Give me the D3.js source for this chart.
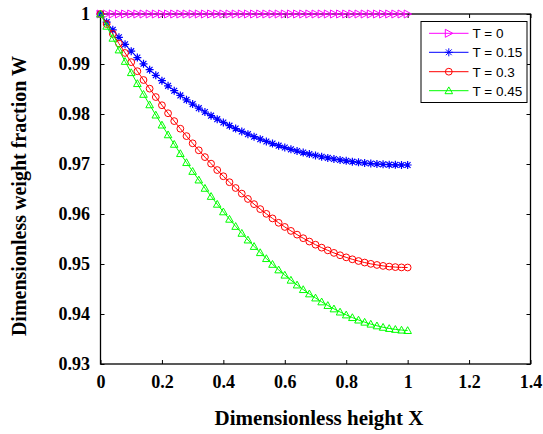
<!DOCTYPE html>
<html>
<head>
<meta charset="utf-8">
<script src="https://cdnjs.cloudflare.com/ajax/libs/d3/7.8.5/d3.min.js"></script>
<style>
  html, body { margin: 0; padding: 0; background: #fff; }
  svg { display: block; }
</style>
</head>
<body>
<svg id="chart" width="543" height="434"></svg>
<script>
// ---------- data ----------
const xValues = [0,0.02,0.04,0.06,0.08,0.10,0.12,0.14,0.16,0.18,0.20,0.22,0.24,0.26,0.28,0.30,0.32,0.34,0.36,0.38,0.40,0.42,0.44,0.46,0.48,0.50,0.52,0.54,0.56,0.58,0.60,0.62,0.64,0.66,0.68,0.70,0.72,0.74,0.76,0.78,0.80,0.82,0.84,0.86,0.88,0.90,0.92,0.94,0.96,0.98,1.00];

const seriesNames = ["T = 0", "T = 0.15", "T = 0.3", "T = 0.45"];

const wT0 = [1,1,1,1,1,1,1,1,1,1,1,1,1,1,1,1,1,1,1,1,1,1,1,1,1,1,1,1,1,1,1,1,1,1,1,1,1,1,1,1,1,1,1,1,1,1,1,1,1,1,1];

const wT015 = [1,0.99837,0.99683,0.99534,0.99393,0.99257,0.99128,0.99004,0.98886,0.98774,0.98666,0.98563,0.98466,0.98372,0.98283,0.98198,0.98117,0.98040,0.97967,0.97897,0.97831,0.97767,0.97708,0.97651,0.97597,0.97546,0.97497,0.97451,0.97408,0.97367,0.97329,0.97293,0.97259,0.97228,0.97198,0.97171,0.97145,0.97122,0.97100,0.97081,0.97063,0.97047,0.97033,0.97020,0.97009,0.97000,0.96993,0.96987,0.96983,0.96980,0.96980];

const wT03 = [1,0.99799,0.99603,0.99410,0.99221,0.99037,0.98856,0.98680,0.98507,0.98339,0.98175,0.98015,0.97858,0.97706,0.97558,0.97414,0.97274,0.97138,0.97007,0.96879,0.96755,0.96636,0.96520,0.96408,0.96301,0.96197,0.96098,0.96003,0.95912,0.95824,0.95741,0.95662,0.95587,0.95516,0.95449,0.95386,0.95327,0.95273,0.95222,0.95175,0.95133,0.95094,0.95060,0.95029,0.95003,0.94981,0.94962,0.94948,0.94938,0.94932,0.94930];

const wT045 = [1,0.99756,0.99516,0.99282,0.99053,0.98828,0.98609,0.98394,0.98185,0.97980,0.97780,0.97585,0.97395,0.97209,0.97029,0.96853,0.96681,0.96515,0.96353,0.96196,0.96044,0.95896,0.95753,0.95615,0.95481,0.95352,0.95228,0.95109,0.94994,0.94883,0.94778,0.94677,0.94581,0.94489,0.94403,0.94321,0.94243,0.94171,0.94103,0.94040,0.93982,0.93929,0.93880,0.93837,0.93798,0.93764,0.93735,0.93711,0.93693,0.93679,0.93670];

const xTicks = [0,0.2,0.4,0.6,0.8,1,1.2,1.4];
const xTickLabels = ["0","0.2","0.4","0.6","0.8","1","1.2","1.4"];
const yTicks = [0.93,0.94,0.95,0.96,0.97,0.98,0.99,1];
const yTickLabels = ["0.93","0.94","0.95","0.96","0.97","0.98","0.99","1"];

const xTitle = "Dimensionless height X";
const yTitle = "Dimensionless weight fraction W";

// ---------- layout ----------
const L = 100.5, R = 530.5, T = 14, B = 364;
const svg = d3.select("#chart");
const x = d3.scaleLinear().domain([0, 1.4]).range([L, R]);
const y = d3.scaleLinear().domain([0.93, 1]).range([B, T]);

const serif = "'Liberation Serif','Times New Roman',Times,serif";
const sans = "Arial,'Liberation Sans',Helvetica,sans-serif";

// markers
const markerPaths = {
  right: "M-3.5,-4L4,0L-3.5,4Z",
  star: "M-4,0L4,0M0,-4L0,4M-2.9,-2.9L2.9,2.9M-2.9,2.9L2.9,-2.9",
  circle: "M3.4,0A3.4,3.4 0 1,1 -3.4,0A3.4,3.4 0 1,1 3.4,0Z",
  up: "M0,-3.8L3.8,3.0L-3.8,3.0Z"
};

const series = [
  {name: seriesNames[0], values: wT0, color: "#ff00ff", marker: "right"},
  {name: seriesNames[1], values: wT015, color: "#0000ff", marker: "star"},
  {name: seriesNames[2], values: wT03, color: "#ff0000", marker: "circle"},
  {name: seriesNames[3], values: wT045, color: "#00ff00", marker: "up"}
];

// axes (ticks inside)
const gx = svg.append("g").attr("transform", `translate(0,${B})`)
  .call(d3.axisBottom(x).tickValues(xTicks).tickSize(-4).tickSizeOuter(0).tickPadding(11.5)
    .tickFormat((d, i) => xTickLabels[i]));
const gxt = svg.append("g").attr("transform", `translate(0,${T})`)
  .call(d3.axisTop(x).tickValues(xTicks).tickSize(-4).tickSizeOuter(0).tickFormat(""));
const gy = svg.append("g").attr("transform", `translate(${L},0)`)
  .call(d3.axisLeft(y).tickValues(yTicks).tickSize(-4).tickSizeOuter(0).tickPadding(10.5)
    .tickFormat((d, i) => yTickLabels[i]));
const gyr = svg.append("g").attr("transform", `translate(${R},0)`)
  .call(d3.axisRight(y).tickValues(yTicks).tickSize(-4).tickSizeOuter(0).tickFormat(""));

[gx, gxt, gy, gyr].forEach(g => {
  g.select(".domain").remove();
  g.selectAll(".tick line").attr("stroke", "#000").attr("stroke-width", 1);
  g.selectAll("text").attr("font-family", serif).attr("font-weight", "bold")
    .attr("font-size", 18).attr("fill", "#000");
});

// box
svg.append("rect").attr("x", L).attr("y", T).attr("width", R - L).attr("height", B - T)
  .attr("fill", "none").attr("stroke", "#000").attr("stroke-width", 1.3);

// series
const line = d3.line().x((d, i) => x(xValues[i])).y(d => y(d));
series.forEach(s => {
  const g = svg.append("g");
  g.append("path").datum(s.values).attr("d", line)
    .attr("fill", "none").attr("stroke", s.color).attr("stroke-width", 1);
  g.selectAll("path.m").data(s.values).enter().append("path").attr("class", "m")
    .attr("d", markerPaths[s.marker])
    .attr("transform", (d, i) => `translate(${x(xValues[i])},${y(d)})`)
    .attr("fill", "none").attr("stroke", s.color)
    .attr("stroke-width", s.marker === "star" ? 1.2 : 1);
});

// legend
const lg = svg.append("g");
lg.append("rect").attr("x", 421).attr("y", 21.5).attr("width", 106).attr("height", 81)
  .attr("fill", "#fff").attr("stroke", "#000").attr("stroke-width", 1);
const legendY = [33.3, 52.3, 71.7, 90.7];
series.forEach((s, i) => {
  const yy = legendY[i];
  lg.append("line").attr("x1", 429).attr("x2", 468.5).attr("y1", yy).attr("y2", yy)
    .attr("stroke", s.color).attr("stroke-width", 1);
  lg.append("path").attr("d", markerPaths[s.marker])
    .attr("transform", `translate(448.8,${yy})`)
    .attr("fill", "none").attr("stroke", s.color).attr("stroke-width", 1);
  lg.append("text").attr("x", 472.5).attr("y", yy).attr("dy", "0.36em")
    .attr("font-family", sans).attr("font-size", 13.5).attr("fill", "#000").text(s.name);
});

// titles
svg.append("text").attr("x", 319).attr("y", 424.5).attr("text-anchor", "middle")
  .attr("font-family", serif).attr("font-weight", "bold").attr("font-size", 21)
  .text(xTitle);
svg.append("text").attr("transform", "translate(25.5,196) rotate(-90)").attr("text-anchor", "middle")
  .attr("font-family", serif).attr("font-weight", "bold").attr("font-size", 20)
  .text(yTitle);
</script>
</body>
</html>
